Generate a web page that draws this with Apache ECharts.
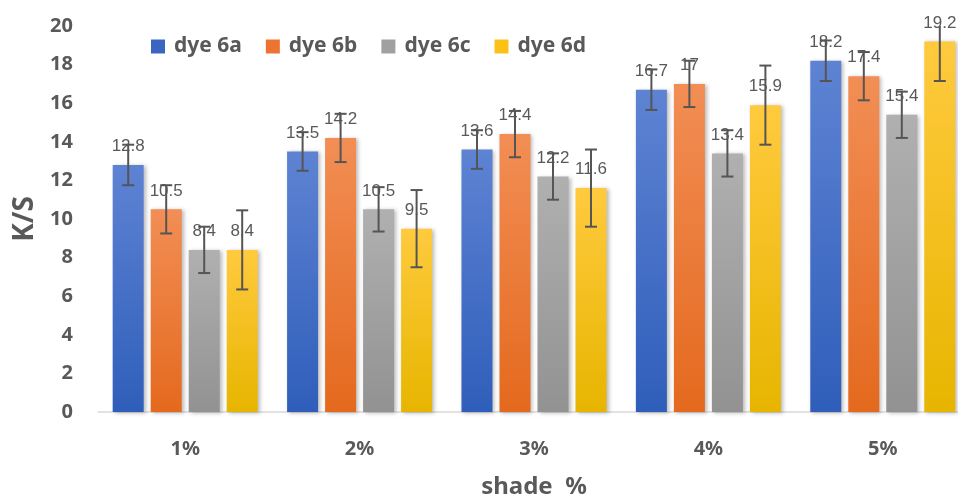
<!DOCTYPE html>
<html>
<head>
<meta charset="utf-8">
<script src="https://cdn.jsdelivr.net/npm/echarts@6/dist/echarts.min.js"></script>
<style>html,body{margin:0;padding:0;background:#fff;}#c{width:958px;height:500px;}</style>
</head>
<body>
<div id="c"></div>
<script>
var categories = ['1%', '2%', '3%', '4%', '5%'];
var seriesNames = ['dye 6a', 'dye 6b', 'dye 6c', 'dye 6d'];
var dye6a = [12.8, 13.5, 13.6, 16.7, 18.2];
var dye6b = [10.5, 14.2, 14.4, 17, 17.4];
var dye6c = [8.4, 10.5, 12.2, 13.4, 15.4];
var dye6d = [8.4, 9.5, 11.6, 15.9, 19.2];
var err6a = [1.05, 1.0, 1.0, 1.05, 1.05];
var err6b = [1.25, 1.25, 1.2, 1.2, 1.25];
var err6c = [1.2, 1.15, 1.2, 1.2, 1.2];
var err6d = [2.05, 2.0, 2.0, 2.05, 2.05];
var yTicks = [0, 2, 4, 6, 8, 10, 12, 14, 16, 18, 20];

var values = [dye6a, dye6b, dye6c, dye6d];
var errors = [err6a, err6b, err6c, err6d];
var gradients = [
  ['#5E83D3', '#2F5EBA'],
  ['#F28E55', '#E4691E'],
  ['#B0B0B0', '#929292'],
  ['#FFCA3E', '#E7B500']
];
var legendColors = ['#3A66C0', '#EC7430', '#A0A0A0', '#FBC116'];
var BAR_W = 31, BAR_STEP = 38;
var txt = '#595959';
var font = 'Noto Sans';

var chart = echarts.init(document.getElementById('c'), null, {renderer: 'canvas'});
var series = [];
values.forEach(function (vals, si) {
  series.push({
    name: seriesNames[si],
    type: 'bar',
    barWidth: BAR_W,
    barGap: ((BAR_STEP - BAR_W) / BAR_W * 100).toFixed(1) + '%',
    data: vals,
    z: 2,
    itemStyle: {
      color: new echarts.graphic.LinearGradient(0, 0, 0, 1, [
        {offset: 0, color: gradients[si][0]},
        {offset: 1, color: gradients[si][1]}
      ]),
      shadowBlur: 4,
      shadowColor: 'rgba(0,0,0,0.28)',
      shadowOffsetX: 2,
      shadowOffsetY: 1
    },
    label: {
      show: true,
      position: 'top',
      distance: 10,
      color: txt,
      fontFamily: 'Liberation Sans',
      fontSize: 17
    },
    emphasis: {disabled: true}
  });
});
values.forEach(function (vals, si) {
  series.push({
    name: seriesNames[si],
    type: 'custom',
    z: 10,
    clip: true,
    data: vals.map(function (v, i) { return [i, v, errors[si][i]]; }),
    encode: {x: 0, y: 1},
    renderItem: function (params, api) {
      var ci = api.value(0), v = api.value(1), e = api.value(2);
      var off = (si - 1.5) * BAR_STEP;
      var hi = api.coord([ci, v + e]);
      var lo = api.coord([ci, v - e]);
      var x = hi[0] + off;
      var cap = 6;
      var st = {stroke: '#555555', lineWidth: 2};
      return {
        type: 'group',
        children: [
          {type: 'line', shape: {x1: x, y1: hi[1], x2: x, y2: lo[1]}, style: st},
          {type: 'line', shape: {x1: x - cap, y1: hi[1], x2: x + cap, y2: hi[1]}, style: st},
          {type: 'line', shape: {x1: x - cap, y1: lo[1], x2: x + cap, y2: lo[1]}, style: st}
        ]
      };
    },
    silent: true,
    tooltip: {show: false}
  });
});

chart.setOption({
  animation: false,
  backgroundColor: '#ffffff',
  legend: {
    data: seriesNames.map(function (n, i) {
      return {name: n, itemStyle: {color: legendColors[i]}};
    }),
    left: 146,
    top: 31,
    itemWidth: 14,
    itemHeight: 14,
    itemGap: 24,
    icon: 'rect',
    textStyle: {color: txt, fontFamily: font, fontWeight: 'bold', fontSize: 21, padding: [0, 0, 0, 4]}
  },
  grid: {left: 98, width: 872, top: 26, height: 386, containLabel: false, outerBoundsMode: 'none'},
  xAxis: {
    type: 'category',
    data: categories,
    name: 'shade  %',
    nameLocation: 'middle',
    nameGap: 63,
    nameTextStyle: {color: txt, fontFamily: font, fontWeight: 'bold', fontSize: 24},
    axisLine: {show: true, lineStyle: {color: '#D9D9D9', width: 1.5}},
    axisTick: {show: false},
    axisLabel: {color: txt, fontFamily: font, fontWeight: 'bold', fontSize: 20, margin: 27}
  },
  yAxis: {
    type: 'value',
    min: yTicks[0],
    max: yTicks[yTicks.length - 1],
    interval: 2,
    name: 'K/S',
    nameLocation: 'middle',
    nameGap: 57,
    nameRotate: 90,
    nameTextStyle: {color: txt, fontFamily: font, fontWeight: 'bold', fontSize: 28},
    axisLine: {show: false},
    axisTick: {show: false},
    splitLine: {show: false},
    axisLabel: {color: txt, fontFamily: font, fontWeight: 'bold', fontSize: 20, margin: 25}
  },
  series: series
});
</script>
</body>
</html>
